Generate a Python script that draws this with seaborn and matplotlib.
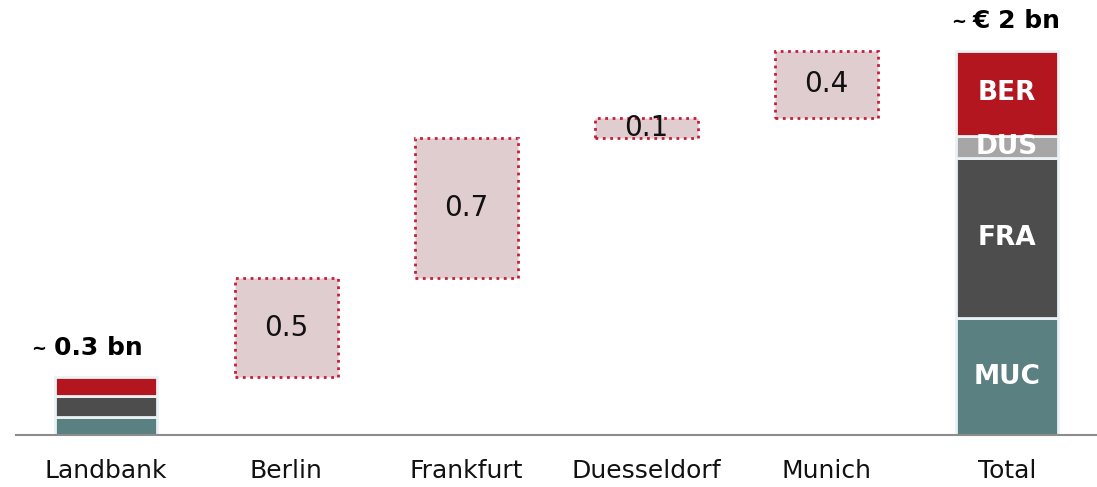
"""Waterfall of the landbank build-up by city."""

import matplotlib
matplotlib.use("Agg")
import matplotlib.pyplot as plt
import numpy as np
import seaborn as sns

categories = ["Landbank", "Berlin", "Frankfurt", "Duesseldorf", "Munich", "Total"]
steps = ["Berlin", "Frankfurt", "Duesseldorf", "Munich"]
step_values = [0.495, 0.70, 0.10, 0.335]
step_labels = ["0.5", "0.7", "0.1", "0.4"]
landbank_start = 0.29

segments = ["MUC", "FRA", "DUS", "BER"]
landbank_parts = [0.09, 0.105, 0.0, 0.095]
total_parts = [0.585, 0.80, 0.11, 0.425]
segment_colors = {"MUC": "#5b8082", "FRA": "#4d4d4d", "DUS": "#a6a6a6", "BER": "#b3161f"}

start_label = "0.3 bn"
total_label = "€ 2 bn"

sns.set_theme(style="white")
plt.rcParams["font.family"] = ["DejaVu Sans"]

fig = plt.figure(figsize=(10.97, 4.87), dpi=100)
ax = fig.add_axes([16 / 1097, 52 / 487, 1081 / 1097, 435 / 487])

# floating step boxes
bases = landbank_start + np.concatenate([[0], np.cumsum(step_values)[:-1]])
sns.barplot(x=steps, y=step_values, order=categories, bottom=bases, width=0.57,
            color="#e0cdd0", edgecolor="#c41e3a", linewidth=2, linestyle=":",
            saturation=1, ax=ax)
for name, val, base, lab in zip(steps, step_values, bases, step_labels):
    ax.text(categories.index(name), base + val / 2, lab, ha="center", va="center",
            fontsize=20, color="#111111")

# stacked bars for landbank and total
lb_bottom = np.concatenate([[0], np.cumsum(landbank_parts)[:-1]])
tot_bottom = np.concatenate([[0], np.cumsum(total_parts)[:-1]])
for i, seg in enumerate(segments):
    xs, hs, bs = [], [], []
    if landbank_parts[i] > 0:
        xs.append("Landbank"); hs.append(landbank_parts[i]); bs.append(lb_bottom[i])
    xs.append("Total"); hs.append(total_parts[i]); bs.append(tot_bottom[i])
    sns.barplot(x=xs, y=hs, order=categories, bottom=bs, width=0.57,
                color=segment_colors[seg], edgecolor="#eaf2f6", linewidth=2,
                saturation=1, ax=ax)
    ax.text(5, tot_bottom[i] + total_parts[i] / 2, seg, ha="center", va="center",
            fontsize=19, fontweight="bold", color="white")

# headline labels
ax.text(0 - 0.29, 0.40, start_label, ha="left", va="baseline",
        fontsize=18, fontweight="bold", color="black")
ax.text(0 - 0.335, 0.405, "~", ha="right", va="baseline", fontsize=13,
        fontweight="bold", color="black")
ax.text(5 - 0.19, 2.035, total_label, ha="left", va="baseline",
        fontsize=18, fontweight="bold", color="black")
ax.text(5 - 0.225, 2.04, "~", ha="right", va="baseline", fontsize=13,
        fontweight="bold", color="black")

ax.set_xlim(-0.5, 5.5)
ax.set_ylim(0, 2.175)
ax.set_xlabel("")
ax.set_ylabel("")
ax.set_yticks([])
ax.tick_params(axis="x", length=0, pad=17, labelsize=18, labelcolor="#111111")
sns.despine(ax=ax, left=True)
ax.spines["bottom"].set_color("#8c8c8c")
ax.spines["bottom"].set_linewidth(1.5)

fig.savefig("out.png", dpi=100)
